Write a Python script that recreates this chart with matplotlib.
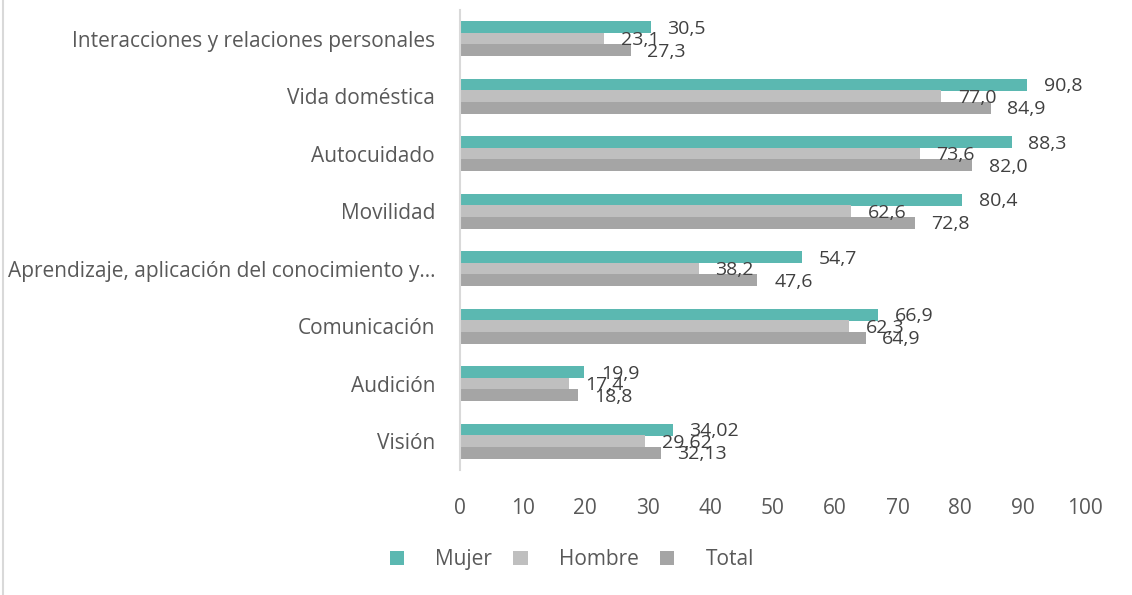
import matplotlib
matplotlib.use("Agg")
from matplotlib import pyplot as plt
from matplotlib.lines import Line2D
import numpy as np

plt.rcParams['font.family'] = ['Open Sans', 'DejaVu Sans']

categorias = ["Visión", "Audición", "Comunicación",
              "Aprendizaje, aplicación del conocimiento y…",
              "Movilidad", "Autocuidado", "Vida doméstica",
              "Interacciones y relaciones personales"]
mujer = [34.02, 19.9, 66.9, 54.7, 80.4, 88.3, 90.8, 30.5]
hombre = [29.62, 17.4, 62.3, 38.2, 62.6, 73.6, 77.0, 23.1]
total = [32.13, 18.8, 64.9, 47.6, 72.8, 82.0, 84.9, 27.3]
etiquetas_mujer = ["34,02", "19,9", "66,9", "54,7", "80,4", "88,3", "90,8", "30,5"]
etiquetas_hombre = ["29,62", "17,4", "62,3", "38,2", "62,6", "73,6", "77,0", "23,1"]
etiquetas_total = ["32,13", "18,8", "64,9", "47,6", "72,8", "82,0", "84,9", "27,3"]

series = [("Mujer", mujer, etiquetas_mujer, "#5BB8B1", 0.2),
          ("Hombre", hombre, etiquetas_hombre, "#BFBFBF", 0.0),
          ("Total", total, etiquetas_total, "#A5A5A5", -0.2)]

fig = plt.figure(figsize=(11.32, 5.95), dpi=100)
ax = fig.add_axes([0.4064, 0.21, 0.552, 0.773])

y = np.arange(len(categorias))
h = 0.205
text_col = "#595959"
for nombre, vals, etis, col, off in series:
    bars = ax.barh(y + off, vals, height=h, color=col, label=nombre)
    for b, v, t in zip(bars, vals, etis):
        ax.annotate(t, (v, b.get_y() + b.get_height() / 2), xytext=(12, -1),
                    textcoords="offset points", va="center", ha="left",
                    fontsize=14, color="#404040")

ax.set_xlim(0, 100)
ax.set_ylim(-0.5, 7.5)
ax.set_xticks(np.arange(0, 101, 10))
ax.set_yticks(y)
ax.set_yticklabels(categorias)
ax.tick_params(axis="both", length=0, labelsize=15, labelcolor=text_col)
ax.tick_params(axis="x", pad=20)
ax.tick_params(axis="y", pad=18)
for s in ["top", "right", "bottom"]:
    ax.spines[s].set_visible(False)
ax.spines["left"].set_color("#D9D9D9")
ax.spines["left"].set_linewidth(1.5)

handles, labels = ax.get_legend_handles_labels()
fig.legend(handles, labels, loc="center", bbox_to_anchor=(0.505, 0.059), ncol=3,
           frameon=False, fontsize=15, labelcolor=text_col,
           handlelength=0.7, handleheight=0.7, handletextpad=1.5, columnspacing=1.0)

fig.add_artist(Line2D([0.003, 0.003], [0, 1], transform=fig.transFigure,
                      color="#D9D9D9", linewidth=1.5))

fig.savefig("out.png", dpi=100)
